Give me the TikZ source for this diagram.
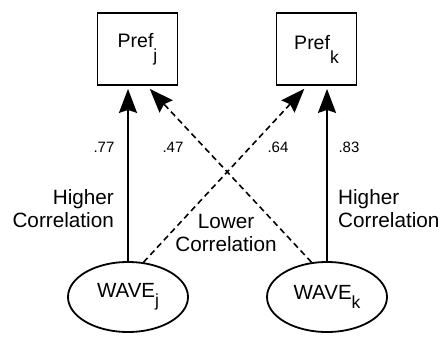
\documentclass[tikz,border=0pt]{standalone}
\usepackage{fontspec}
\setmainfont{Liberation Sans}
\usetikzlibrary{arrows.meta,shapes.geometric,calc}

% subscript letter set lower than usual
\newcommand{\lowsub}[2]{\raisebox{-#1}{\fontsize{17.5}{17.5}\selectfont #2}}

\begin{document}
\begin{tikzpicture}[x=1pt,y=-1pt,
  prefbox/.style={draw,line width=1.8pt,minimum width=80pt,minimum height=72pt,inner sep=0pt,
                  font=\fontsize{19.5}{22}\selectfont},
  wavenode/.style={draw,ellipse,line width=1.8pt,minimum width=120pt,minimum height=70pt,inner sep=0pt,
                   font=\fontsize{20.5}{23}\selectfont},
  tip/.style={-{Stealth[length=24pt,width=18pt,inset=3pt]}},
  strong/.style={tip,line width=1.8pt,shorten >=3pt},
  weak/.style={tip,line width=1.6pt,dash pattern=on 6pt off 4pt,shorten >=4pt},
  coef/.style={font=\fontsize{15}{17}\selectfont,inner sep=0pt},
  lbl/.style={font=\fontsize{20.7}{23}\selectfont,inner sep=0pt}]
  \useasboundingbox (0,0) rectangle (444,337);

  % outcome boxes
  \node[prefbox] (prefj) at (137.5,49) {Pref\lowsub{14pt}{j}};
  \node[prefbox] (prefk) at (316.5,49) {Pref\lowsub{14pt}{k}};

  % predictor ellipses
  \node[wavenode] (wavej) at (128,297) {WAVE\lowsub{9pt}{j}};
  \node[wavenode] (wavek) at (327,297) {WAVE\lowsub{9pt}{k}};

  % direct paths
  \draw[strong] (wavej.north) -- (wavej.north |- prefj.south);
  \draw[strong] (wavek.north) -- (wavek.north |- prefk.south);

  % cross paths
  \draw[weak] (wavej.66) -- ($(prefk.south)+(-9.5,0)$);
  \draw[weak] (wavek.114) -- ($(prefj.south)+(9.5,0)$);

  % path coefficients
  \node[coef] (c77) at (104,147) {.77};
  \node[coef] (c47) at (173,147) {.47};
  \node[coef] (c64) at (278,147) {.64};
  \node[coef] (c83) at (349,147) {.83};

  % descriptions
  \node[lbl,align=right,anchor=east] (hl) at (114,209) {Higher\\Correlation};
  \node[lbl,align=left,anchor=west] (hr) at (338,209) {Higher\\Correlation};
  \node[lbl,align=center] (lc) at (226,233) {Lower\\Correlation};
\end{tikzpicture}
\end{document}
